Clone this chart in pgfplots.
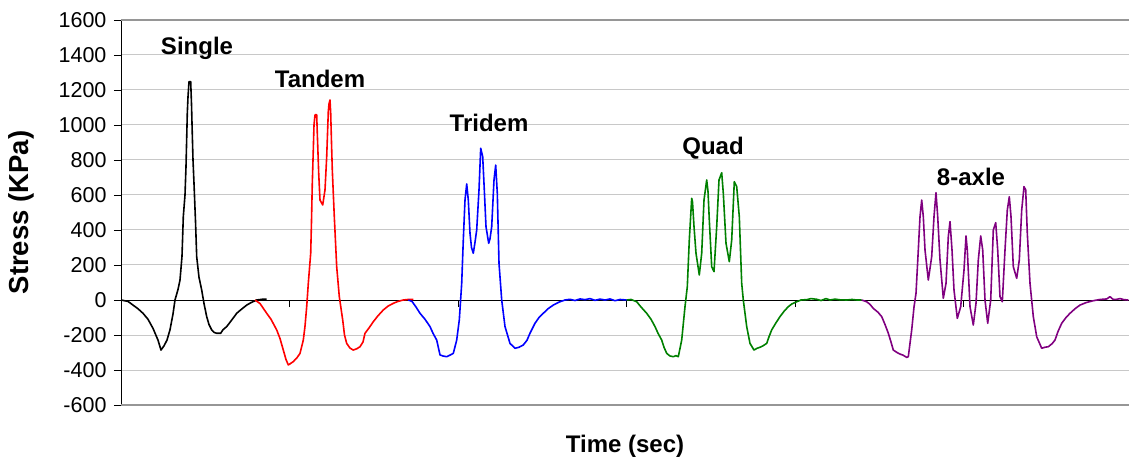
\documentclass[border=0pt]{standalone}
\usepackage{fontspec}
\setmainfont{Liberation Sans}
\usepackage{pgfplots}
\pgfplotsset{compat=1.18}

\definecolor{gridgray}{RGB}{200,200,200}
\definecolor{framegray}{RGB}{150,150,150}
\definecolor{quadgreen}{RGB}{0,128,0}
\definecolor{axlepurple}{RGB}{128,0,128}

\begin{document}
\begin{tikzpicture}
\begin{axis}[
  at={(0,0)}, anchor=south west,
  scale only axis, width=1008pt, height=385pt,
  xmin=121, xmax=1129, ymin=-600, ymax=1600,
  axis y line=left, axis x line=middle,
  axis line style={-, black, line width=0.8pt},
  ytick={-600,-400,...,1600},
  xtick={289.5,458,626.5,795,963.5},
  xticklabels={},
  tick align=outside, major tick length=7pt,
  tick style={black, line width=0.8pt},
  ymajorgrids=true,
  grid style={gridgray, line width=1pt},
  /pgf/number format/assume math mode=true,
  /pgf/number format/1000 sep={},
  yticklabel style={font=\fontsize{21.5}{24}\selectfont, xshift=-4pt},
  xlabel={Time (sec)}, ylabel={Stress (KPa)},
  xlabel style={font=\bfseries\fontsize{24}{28}\selectfont,
    at={(axis description cs:0.5,-0.1065)}, anchor=center},
  ylabel style={font=\bfseries\fontsize{27.5}{30}\selectfont,
    at={(axis description cs:-0.099,0.5)}, anchor=center},
  clip=false,
  every axis plot/.append style={line width=1.6pt, line join=round},
]
\draw[framegray, line width=1.2pt] (rel axis cs:0,0) -- (rel axis cs:1,0);
\draw[framegray, line width=1.2pt] (rel axis cs:0,1) -- (rel axis cs:1,1);

% Single
\addplot[black] coordinates {
(121,0) (128,-8) (133,-29) (138,-50) (143,-76) (148,-110) (153,-162) (158,-229)
(161,-286) (164,-262) (167,-229) (170,-170) (173,-80) (175,0) (178,60) (180,114)
(182,250) (183.3,476) (185,600) (186,762) (187.3,1067) (188,1160) (189,1248)
(190.7,1248) (191.5,1120) (192,1010) (193,800) (194,667) (195.5,450) (196.7,248)
(199,130) (201.7,57) (204,-20) (206.7,-95) (209,-140) (211.7,-171) (214,-185)
(216.7,-190) (220.7,-190) (223,-170) (226.7,-152) (231,-120) (236.7,-76) (241,-55)
(246.7,-29) (251,-15) (256.7,0) (262,4) (266.7,5)
};
% Tandem
\addplot[red] coordinates {
(255,0) (260,-20) (266.7,-76) (271,-110) (276.7,-171) (280,-220) (283.3,-286)
(286,-340) (288.3,-371) (290,-365) (293.3,-352) (297,-330) (300,-305) (303.3,-229)
(305,-150) (306.7,-38) (308.3,95) (310.7,267) (311.5,450) (312.3,667) (313.3,857)
(314,1000) (315,1057) (316,1060) (316.7,1057) (317.3,952) (318.7,724) (320,571)
(322.7,543) (325,629) (326.7,819) (328.3,1076) (329,1120) (330,1143) (330.7,1067)
(331.5,900) (332.3,743) (334.3,476) (336.7,190) (339.3,19) (342.7,-114) (344.5,-200)
(346.7,-248) (350,-275) (353.3,-286) (357,-278) (360,-267) (363,-240) (365,-190)
(369,-160) (373.3,-124) (378,-90) (383.3,-57) (388,-35) (393.3,-19) (398,-8)
(403.3,0) (408,3) (413.3,3)
};
% Tridem
\addplot[blue] coordinates {
(408.3,0) (412,-8) (416,-40) (420,-76) (425,-110) (430,-152) (433,-190) (436.7,-229)
(440,-314) (443,-320) (446.7,-324) (450,-315) (453.3,-305) (456.7,-229) (459.3,-114)
(461.7,95) (463.3,343) (465,571) (466.7,663) (468.3,571) (470,381) (471.5,300)
(473.3,267) (475,330) (476.7,400) (479,629) (480.7,867) (482.7,819) (484.3,629)
(486,419) (488.7,324) (490,350) (491.7,419) (494,686) (495.7,771) (497.3,610)
(499,210) (501.7,0) (505,-152) (510,-248) (515,-276) (519,-270) (523.3,-257)
(527,-230) (530,-190) (535,-133) (539,-100) (543.3,-76) (548,-50) (553.3,-29)
(559,-12) (565,0) (570,4) (575,-3) (580,6) (585,2) (590,8) (595,-2) (600,5) (605,0)
(610,6) (615,-4) (620,3) (626.7,0)
};
% Quad
\addplot[quadgreen] coordinates {
(626.7,0) (631,3) (636.7,-10) (641,-40) (646.7,-76) (651,-110) (655,-152) (658,-190)
(661.7,-229) (664,-270) (666.7,-305) (670,-320) (673.3,-324) (676,-318) (678.3,-324)
(681.7,-229) (685,-38) (687.3,76) (689.3,343) (691.7,581) (692.5,560) (694,420)
(696,267) (699.3,143) (701.7,267) (704,571) (706.7,686) (708,620) (709.3,457)
(711.7,190) (714,162) (716.7,419) (719,686) (721.7,727) (723.3,610) (726,324)
(729.3,219) (731.7,343) (734.3,676) (736.7,648) (739.3,476) (741.7,95) (743.3,0)
(746.7,-152) (750,-248) (754,-286) (757,-276) (760,-270) (763,-262) (766.7,-248)
(769,-210) (771.7,-171) (776,-130) (780,-95) (784,-65) (788.3,-38) (792,-22)
(796.7,-10) (801,0) (806.7,2) (811,8) (816.7,4) (821,-3) (826,8) (830,0) (835,5)
(840,1) (846.7,0) (852,3) (857,0) (861.7,0)
};
% 8-axle
\addplot[axlepurple] coordinates {
(861.7,0) (866.7,-10) (870,-25) (873.3,-48) (878,-70) (881.7,-95) (885,-140)
(888.3,-190) (891,-240) (893.3,-286) (897,-300) (900,-309) (903,-315) (906.7,-328)
(908.3,-324) (911.7,-171) (914,-40) (916,38) (918.3,286) (920,476) (921.7,571)
(923.3,476) (925,286) (928.3,114) (931.7,248) (934,476) (936,613) (937.7,476)
(940,229) (943.3,10) (946,95) (948.3,362) (950,448) (952,286) (954,57) (957.3,-105)
(960.7,-38) (964,171) (966,366) (967.3,286) (970,-38) (973.3,-143) (976,-19)
(978.3,229) (980.7,366) (982.7,286) (985,0) (987.7,-133) (990.7,0) (993.3,400)
(995.7,442) (997.7,286) (1000,19) (1002.3,-10) (1005,286) (1007.3,514) (1009.3,590)
(1011,476) (1013.3,190) (1016.7,124) (1019.3,229) (1021.7,514) (1024,648)
(1025.7,629) (1027.3,381) (1030,95) (1033.3,-95) (1036.7,-210) (1041.7,-276)
(1045,-270) (1048.3,-267) (1052,-250) (1055,-229) (1058,-180) (1061.7,-133)
(1066,-100) (1070,-76) (1075,-50) (1080,-29) (1086,-15) (1093.3,-4) (1100,3)
(1106.7,6) (1110,19) (1113,4) (1116.7,4) (1120,8) (1124,2) (1128.3,0)
};

\begin{scope}[font=\bfseries\fontsize{24}{28}\selectfont]
\node at (axis cs:197,1440) {Single};
\node at (axis cs:320,1263) {Tandem};
\node at (axis cs:489,1011) {Tridem};
\node at (axis cs:713,870) {Quad};
\node at (axis cs:971,705) {8-axle};
\end{scope}
\end{axis}
\pgfresetboundingbox
\path (-121pt,-58pt) rectangle (1008pt,405pt);
\end{tikzpicture}
\end{document}
